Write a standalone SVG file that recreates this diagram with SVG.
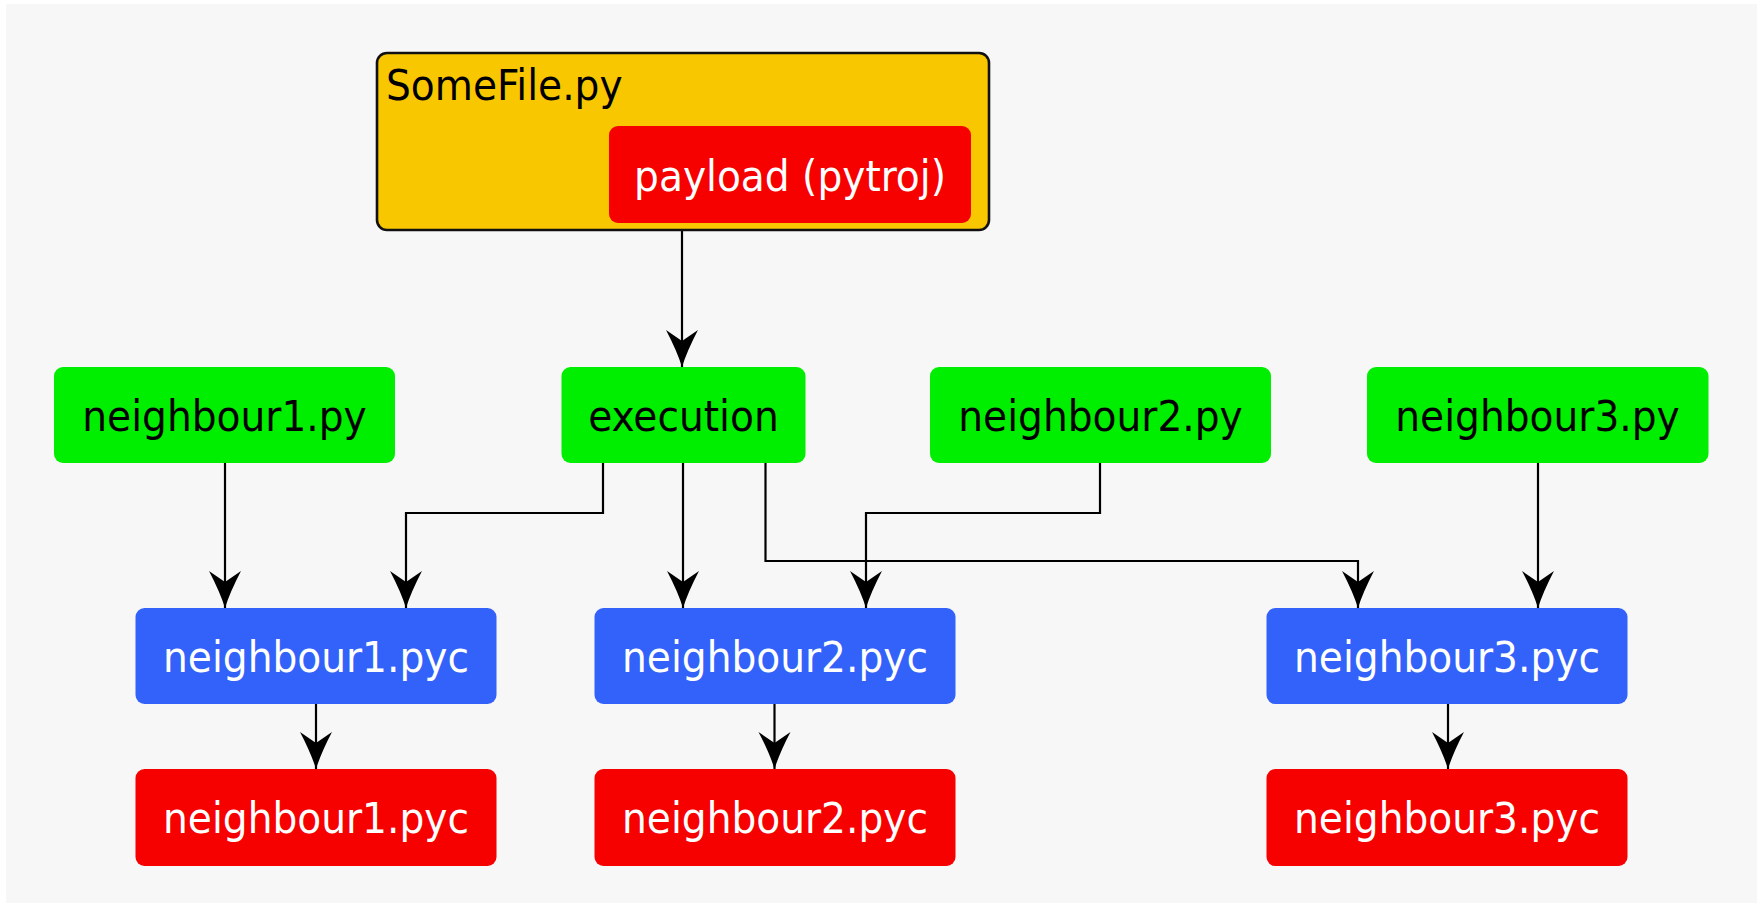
<svg xmlns="http://www.w3.org/2000/svg" width="1763" height="907" viewBox="0 0 1763 907">
<defs>
<style>
.t{font-family:"DejaVu Sans Condensed","DejaVu Sans",sans-serif;font-size:43.5px;text-anchor:middle}
.dk{fill:#000}
.lt{fill:#ffffff}
.g{fill:#00ee00}
.b{fill:#3362fb}
.r{fill:#f70000}
.c{fill:none;stroke:#000;stroke-width:2.2;marker-end:url(#ah)}
</style>
<marker id="ah" markerUnits="userSpaceOnUse" markerWidth="40" markerHeight="36" viewBox="-38 -18 39 36" refX="0" refY="0" orient="auto">
<path d="M0,0 Q-16,-5 -37,-16 L-26,0 L-37,16 Q-16,5 0,0 Z" fill="#000"/>
</marker>
</defs>
<rect x="0" y="0" width="1763" height="907" fill="#ffffff"/>
<rect x="6" y="4" width="1751" height="899" fill="#f7f7f7"/>
<g id="connectors">
<path class="c" d="M682,230 V367"/>
<path class="c" d="M225,463 V608"/>
<path class="c" d="M603,463 V513 H406 V608"/>
<path class="c" d="M683,463 V608"/>
<path class="c" d="M765.5,463 V561 H1358 V608"/>
<path class="c" d="M1100,463 V513 H866 V608"/>
<path class="c" d="M1538,463 V608"/>
<path class="c" d="M316,704 V769"/>
<path class="c" d="M774.5,704 V769"/>
<path class="c" d="M1448,704 V769"/>
</g>
<g id="somefile">
<rect x="377" y="53" width="612" height="177" rx="10" fill="#f9c700" stroke="#111" stroke-width="2.6"/>
<text class="t dk" x="386" y="100" style="text-anchor:start">SomeFile.py</text>
</g>
<g id="payload">
<rect x="609" y="126" width="362" height="97" rx="9" class="r"/>
<text class="t lt" x="790" y="191">payload (pytroj)</text>
</g>
<g id="neighbour1_py">
<rect x="54" y="367" width="341" height="96" rx="9" class="g"/>
<text class="t dk" x="224.5" y="431">neighbour1.py</text>
</g>
<g id="execution">
<rect x="561.5" y="367" width="244" height="96" rx="9" class="g"/>
<text class="t dk" x="683.5" y="431">execution</text>
</g>
<g id="neighbour2_py">
<rect x="930" y="367" width="341" height="96" rx="9" class="g"/>
<text class="t dk" x="1100.5" y="431">neighbour2.py</text>
</g>
<g id="neighbour3_py">
<rect x="1367" y="367" width="341.5" height="96" rx="9" class="g"/>
<text class="t dk" x="1537.5" y="431">neighbour3.py</text>
</g>
<g id="neighbour1_pyc">
<rect x="135.5" y="608" width="361" height="96" rx="9" class="b"/>
<text class="t lt" x="316" y="672">neighbour1.pyc</text>
</g>
<g id="neighbour2_pyc">
<rect x="594.5" y="608" width="361" height="96" rx="9" class="b"/>
<text class="t lt" x="775" y="672">neighbour2.pyc</text>
</g>
<g id="neighbour3_pyc">
<rect x="1266.5" y="608" width="361" height="96" rx="9" class="b"/>
<text class="t lt" x="1447" y="672">neighbour3.pyc</text>
</g>
<g id="neighbour1_pyc_infected">
<rect x="135.5" y="769" width="361" height="97" rx="9" class="r"/>
<text class="t lt" x="316" y="833">neighbour1.pyc</text>
</g>
<g id="neighbour2_pyc_infected">
<rect x="594.5" y="769" width="361" height="97" rx="9" class="r"/>
<text class="t lt" x="775" y="833">neighbour2.pyc</text>
</g>
<g id="neighbour3_pyc_infected">
<rect x="1266.5" y="769" width="361" height="97" rx="9" class="r"/>
<text class="t lt" x="1447" y="833">neighbour3.pyc</text>
</g>
</svg>
